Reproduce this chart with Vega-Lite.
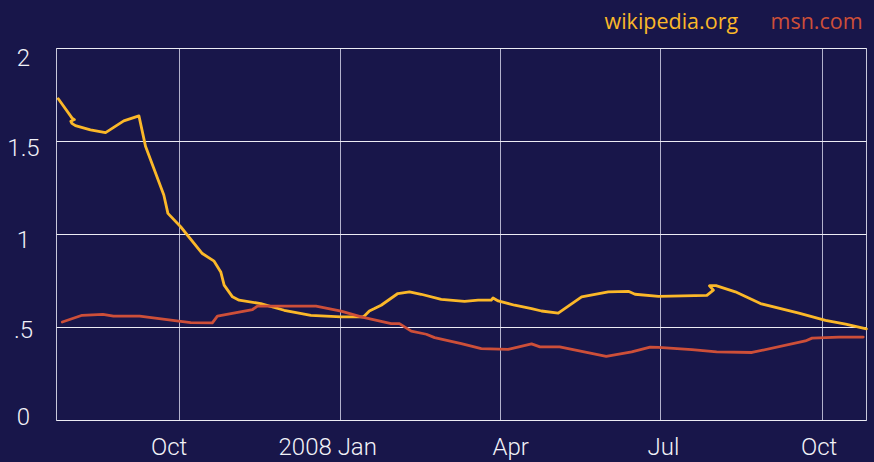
{
  "$schema": "https://vega.github.io/schema/vega-lite/v6.json",
  "width": 810,
  "height": 372,
  "autosize": "none",
  "padding": {"left": 56, "top": 48, "right": 8, "bottom": 42},
  "background": "#18164a",
  "config": {
    "view": {"stroke": "#c8c8dc", "strokeWidth": 1},
    "axis": {"domain": false, "ticks": false, "labelColor": "#f2f2f8", "labelFont": "Roboto", "labelFontWeight": 300, "labelFontSize": 24}
  },
  "data": {"values": [
    {"site": "wikipedia.org", "date": "2007-07-24T12:00", "v": 1.727},
    {"site": "wikipedia.org", "date": "2007-08-01T09:00", "v": 1.623},
    {"site": "wikipedia.org", "date": "2007-08-02T16:00", "v": 1.615},
    {"site": "wikipedia.org", "date": "2007-07-31T16:00", "v": 1.606},
    {"site": "wikipedia.org", "date": "2007-08-01T06:00", "v": 1.595},
    {"site": "wikipedia.org", "date": "2007-08-03T06:00", "v": 1.583},
    {"site": "wikipedia.org", "date": "2007-08-11T19:00", "v": 1.56},
    {"site": "wikipedia.org", "date": "2007-08-20T10:00", "v": 1.545},
    {"site": "wikipedia.org", "date": "2007-08-30T19:00", "v": 1.608},
    {"site": "wikipedia.org", "date": "2007-09-08T10:00", "v": 1.635},
    {"site": "wikipedia.org", "date": "2007-09-12T05:00", "v": 1.47},
    {"site": "wikipedia.org", "date": "2007-09-22T14:00", "v": 1.21},
    {"site": "wikipedia.org", "date": "2007-09-24T22:00", "v": 1.111},
    {"site": "wikipedia.org", "date": "2007-10-02T04:00", "v": 1.039},
    {"site": "wikipedia.org", "date": "2007-10-14T12:00", "v": 0.895},
    {"site": "wikipedia.org", "date": "2007-10-21T05:00", "v": 0.854},
    {"site": "wikipedia.org", "date": "2007-10-25T00:00", "v": 0.796},
    {"site": "wikipedia.org", "date": "2007-10-26T22:00", "v": 0.725},
    {"site": "wikipedia.org", "date": "2007-10-31T16:00", "v": 0.662},
    {"site": "wikipedia.org", "date": "2007-11-04T10:00", "v": 0.644},
    {"site": "wikipedia.org", "date": "2007-11-16T19:00", "v": 0.626},
    {"site": "wikipedia.org", "date": "2007-11-30T02:00", "v": 0.59},
    {"site": "wikipedia.org", "date": "2007-12-15T07:00", "v": 0.563},
    {"site": "wikipedia.org", "date": "2008-01-01T12:00", "v": 0.554},
    {"site": "wikipedia.org", "date": "2008-01-13T19:00", "v": 0.554},
    {"site": "wikipedia.org", "date": "2008-01-14T18:00", "v": 0.559},
    {"site": "wikipedia.org", "date": "2008-01-17T14:00", "v": 0.586},
    {"site": "wikipedia.org", "date": "2008-01-20T12:00", "v": 0.599},
    {"site": "wikipedia.org", "date": "2008-01-24T07:00", "v": 0.617},
    {"site": "wikipedia.org", "date": "2008-02-02T19:00", "v": 0.68},
    {"site": "wikipedia.org", "date": "2008-02-09T10:00", "v": 0.689},
    {"site": "wikipedia.org", "date": "2008-02-16T02:00", "v": 0.676},
    {"site": "wikipedia.org", "date": "2008-02-27T12:00", "v": 0.648},
    {"site": "wikipedia.org", "date": "2008-03-11T19:00", "v": 0.638},
    {"site": "wikipedia.org", "date": "2008-03-19T12:00", "v": 0.644},
    {"site": "wikipedia.org", "date": "2008-03-27T00:00", "v": 0.644},
    {"site": "wikipedia.org", "date": "2008-03-28T00:00", "v": 0.656},
    {"site": "wikipedia.org", "date": "2008-03-30T22:00", "v": 0.64},
    {"site": "wikipedia.org", "date": "2008-04-09T07:00", "v": 0.617},
    {"site": "wikipedia.org", "date": "2008-04-18T22:00", "v": 0.599},
    {"site": "wikipedia.org", "date": "2008-04-24T14:00", "v": 0.586},
    {"site": "wikipedia.org", "date": "2008-05-04T02:00", "v": 0.575},
    {"site": "wikipedia.org", "date": "2008-05-17T10:00", "v": 0.662},
    {"site": "wikipedia.org", "date": "2008-06-01T14:00", "v": 0.689},
    {"site": "wikipedia.org", "date": "2008-06-13T00:00", "v": 0.692},
    {"site": "wikipedia.org", "date": "2008-06-16T19:00", "v": 0.676},
    {"site": "wikipedia.org", "date": "2008-06-30T05:00", "v": 0.665},
    {"site": "wikipedia.org", "date": "2008-07-27T17:00", "v": 0.67},
    {"site": "wikipedia.org", "date": "2008-07-31T10:00", "v": 0.698},
    {"site": "wikipedia.org", "date": "2008-07-29T05:00", "v": 0.722},
    {"site": "wikipedia.org", "date": "2008-08-01T22:00", "v": 0.722},
    {"site": "wikipedia.org", "date": "2008-08-12T22:00", "v": 0.689},
    {"site": "wikipedia.org", "date": "2008-08-27T05:00", "v": 0.626},
    {"site": "wikipedia.org", "date": "2008-09-18T02:00", "v": 0.575},
    {"site": "wikipedia.org", "date": "2008-10-03T05:00", "v": 0.536},
    {"site": "wikipedia.org", "date": "2008-10-14T17:00", "v": 0.515},
    {"site": "wikipedia.org", "date": "2008-10-26T12:00", "v": 0.49},
    {"site": "msn.com", "date": "2007-07-26T19:00", "v": 0.527},
    {"site": "msn.com", "date": "2007-08-07T02:00", "v": 0.563},
    {"site": "msn.com", "date": "2007-08-18T22:00", "v": 0.568},
    {"site": "msn.com", "date": "2007-08-24T22:00", "v": 0.558},
    {"site": "msn.com", "date": "2007-09-08T19:00", "v": 0.558},
    {"site": "msn.com", "date": "2007-10-02T05:00", "v": 0.53},
    {"site": "msn.com", "date": "2007-10-07T22:00", "v": 0.523},
    {"site": "msn.com", "date": "2007-10-20T05:00", "v": 0.522},
    {"site": "msn.com", "date": "2007-10-23T02:00", "v": 0.558},
    {"site": "msn.com", "date": "2007-11-12T02:00", "v": 0.594},
    {"site": "msn.com", "date": "2007-11-14T22:00", "v": 0.612},
    {"site": "msn.com", "date": "2007-12-18T05:00", "v": 0.612},
    {"site": "msn.com", "date": "2008-01-01T12:00", "v": 0.585},
    {"site": "msn.com", "date": "2008-01-12T22:00", "v": 0.554},
    {"site": "msn.com", "date": "2008-01-30T00:00", "v": 0.518},
    {"site": "msn.com", "date": "2008-02-03T17:00", "v": 0.518},
    {"site": "msn.com", "date": "2008-02-10T10:00", "v": 0.478},
    {"site": "msn.com", "date": "2008-02-19T00:00", "v": 0.461},
    {"site": "msn.com", "date": "2008-02-23T17:00", "v": 0.443},
    {"site": "msn.com", "date": "2008-03-09T22:00", "v": 0.411},
    {"site": "msn.com", "date": "2008-03-21T07:00", "v": 0.384},
    {"site": "msn.com", "date": "2008-04-05T14:00", "v": 0.38},
    {"site": "msn.com", "date": "2008-04-18T22:00", "v": 0.409},
    {"site": "msn.com", "date": "2008-04-23T17:00", "v": 0.393},
    {"site": "msn.com", "date": "2008-05-04T22:00", "v": 0.393},
    {"site": "msn.com", "date": "2008-05-31T10:00", "v": 0.342},
    {"site": "msn.com", "date": "2008-06-14T22:00", "v": 0.366},
    {"site": "msn.com", "date": "2008-06-25T10:00", "v": 0.392},
    {"site": "msn.com", "date": "2008-06-30T05:00", "v": 0.39},
    {"site": "msn.com", "date": "2008-07-19T05:00", "v": 0.378},
    {"site": "msn.com", "date": "2008-08-02T07:00", "v": 0.366},
    {"site": "msn.com", "date": "2008-08-22T10:00", "v": 0.363},
    {"site": "msn.com", "date": "2008-09-21T19:00", "v": 0.425},
    {"site": "msn.com", "date": "2008-09-25T14:00", "v": 0.44},
    {"site": "msn.com", "date": "2008-10-10T22:00", "v": 0.446},
    {"site": "msn.com", "date": "2008-10-24T17:00", "v": 0.446}
  ]},
  "mark": {"type": "line", "strokeWidth": 2.8, "strokeJoin": "round", "strokeCap": "round"},
  "encoding": {
    "x": {
      "field": "date", "type": "temporal", "title": null,
      "scale": {"domain": [{"year": 2007, "month": 7, "date": 23, "hours": 5}, {"year": 2008, "month": 10, "date": 26, "hours": 7}]},
      "axis": {
        "values": [{"year": 2007, "month": 10, "date": 1}, {"year": 2008, "month": 1, "date": 1}, {"year": 2008, "month": 4, "date": 1}, {"year": 2008, "month": 7, "date": 1}, {"year": 2008, "month": 10, "date": 1}],
        "labelExpr": "month(datum.value) == 0 ? timeFormat(datum.value, '%Y %b') : timeFormat(datum.value, '%b')",
        "gridColor": "#b2b1cc", "gridOpacity": 1, "gridWidth": 1,
        "labelPadding": 15, "labelAlign": "center",
        "labelOffset": {"condition": [
          {"test": "month(datum.value) == 9 && year(datum.value) == 2007", "value": -10},
          {"test": "month(datum.value) == 0", "value": -13},
          {"test": "month(datum.value) == 3", "value": 10},
          {"test": "month(datum.value) == 6", "value": 3}
        ], "value": -3}
      }
    },
    "y": {
      "field": "v", "type": "quantitative", "title": null,
      "scale": {"domain": [0, 2], "nice": false},
      "axis": {
        "values": [0, 0.5, 1, 1.5, 2],
        "labelExpr": "datum.value == 0.5 ? '.5' : format(datum.value, '~g')",
        "gridColor": "#ececf4", "gridOpacity": 1, "gridWidth": 1,
        "labelAlign": "center", "labelPadding": 33, "labelBaseline": "middle",
        "labelOffset": {"condition": [
          {"test": "datum.value == 2", "value": 10},
          {"test": "datum.value == 1.5", "value": 7},
          {"test": "datum.value == 1", "value": 6},
          {"test": "datum.value == 0.5", "value": 3}
        ], "value": -3}
      }
    },
    "color": {
      "field": "site", "type": "nominal",
      "scale": {"domain": ["wikipedia.org", "msn.com"], "range": ["#fbb829", "#cd4f39"]},
      "legend": {
        "orient": "none", "legendX": 527, "legendY": -36, "direction": "horizontal", "title": null,
        "symbolSize": 0, "symbolStrokeWidth": 0, "symbolOpacity": 0, "labelOffset": 0, "columnPadding": 10,
        "labelFont": "Open Sans", "labelFontSize": 21.5, "labelLimit": 300,
        "encode": {"labels": {"update": {"fill": {"scale": "color", "field": "value"}}}}
      }
    },
    "order": {"value": null}
  }
}
